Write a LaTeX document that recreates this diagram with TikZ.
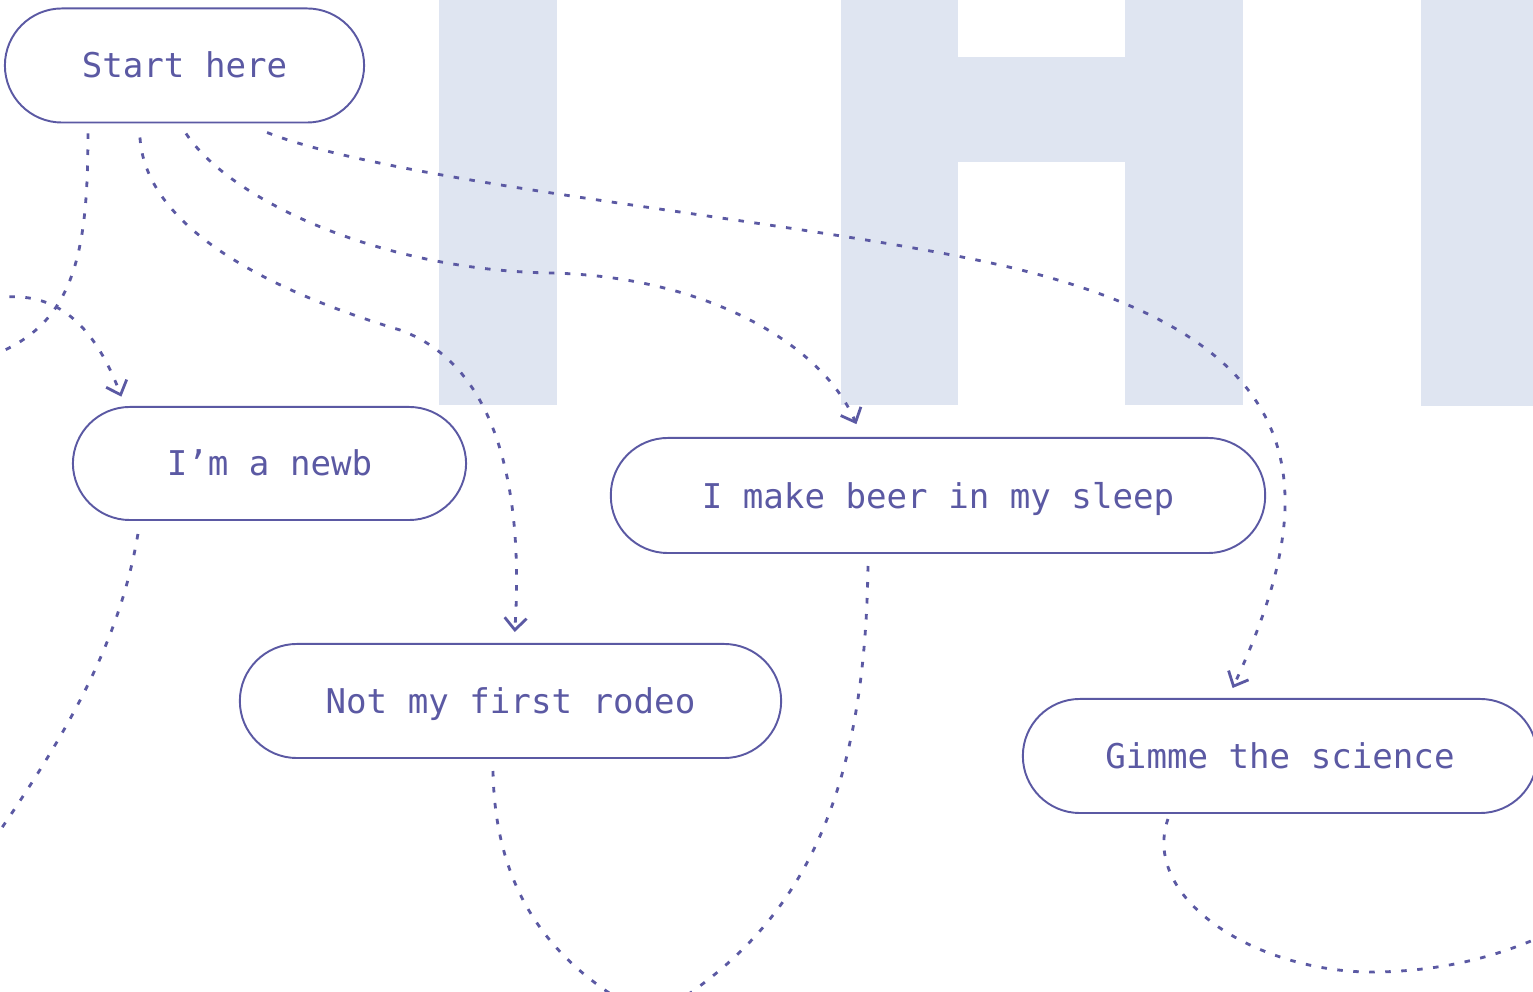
\documentclass[tikz,border=0pt]{standalone}
\usepackage{fontspec}
\setmonofont{DejaVu Sans Mono}
\usetikzlibrary{arrows.meta}

\definecolor{ink}{HTML}{5B59A3}
\definecolor{haze}{HTML}{DFE5F1}

\tikzset{
  pill/.style={draw=ink,line width=0.55pt,rounded corners=5.7mm,minimum height=1.14cm,
    text=ink,text height=2.5mm,text depth=0pt,font=\ttfamily\fontsize{9.7}{11}\selectfont},
  link/.style={draw=ink,line width=0.8pt,dash pattern=on 0.055cm off 0.105cm},
}

\begin{document}
\begin{tikzpicture}[x=0.01cm,y=-0.01cm,>={Straight Barb[length=1.2mm,width=2.2mm]}]
  \useasboundingbox (0,0) rectangle (1533,992);
  \clip (0,0) rectangle (1533,992);
  % letras de fondo (I H I)
  \fill[haze] (439,0) rectangle (557,405);
  \fill[haze] (841,0) rectangle (958,405);
  \fill[haze] (958,57) rectangle (1125,162);
  \fill[haze] (1125,0) rectangle (1243,405);
  \fill[haze] (1421,0) rectangle (1540,406);
  % cajas
  \node[pill,minimum width=3.59cm] (start) at (184.5,65.5) {Start here};
  \node[pill,minimum width=3.93cm,minimum height=1.13cm] (newb) at (269.5,463.5) {I’m a newb};
  \node[pill,minimum width=6.54cm,minimum height=1.15cm] (beer) at (938,495.5) {I make beer in my sleep};
  \node[pill,minimum width=5.41cm] (rodeo) at (510.5,701) {Not my first rodeo};
  \node[pill,minimum width=5.14cm] (gimme) at (1280,756) {Gimme the science};
  % salidas libres
  \coordinate (newbout) at (-10,845);
  \coordinate (rodeoout) at (620,1000);
  \coordinate (beerout) at (680,1000);
  \coordinate (gimmeout) at (1545,935);
  % desde start
  \draw[link,->,shorten >=1mm] ([xshift=-0.965cm,yshift=-1mm]start.south) .. controls (88,270) and (70,340) .. (-40,365)
    .. controls (-110,385) and (-100,292) .. (20,297) .. controls (70,300) and (100,340) .. ([xshift=-1.445cm]newb.north);
  \draw[link,->,shorten >=1.1mm] ([xshift=-0.445cm,yshift=-1.4mm]start.south) .. controls (145,220) and (250,285) .. (400,330)
    .. controls (510,370) and (522,520) .. ([xshift=0.035cm]rodeo.north);
  \draw[link,->,shorten >=1.4mm] ([xshift=0.015cm,yshift=-1mm]start.south) .. controls (230,200) and (380,270) .. (550,273)
    .. controls (700,276) and (820,340) .. ([xshift=-0.76cm]beer.north);
  \draw[link,->,shorten >=1.1mm] ([xshift=0.825cm,yshift=-0.9mm]start.south) .. controls (400,185) and (800,220) .. (1000,265)
    .. controls (1330,340) and (1320,500) .. ([xshift=-0.52cm]gimme.north);
  % siguientes pasos
  \draw[link] ([xshift=-1.315cm,yshift=-1.3mm]newb.south) .. controls (120,640) and (70,730) .. (newbout);
  \draw[link] ([xshift=-0.175cm,yshift=-1.2mm]rodeo.south) .. controls (495,880) and (540,950) .. (rodeoout);
  \draw[link] ([xshift=-0.7cm,yshift=-1.2mm]beer.south) .. controls (865,800) and (800,920) .. (beerout);
  \draw[link] ([xshift=-1.12cm,yshift=-0.5mm]gimme.south) .. controls (1140,900) and (1260,975) .. (1380,972)
    .. controls (1450,970) and (1500,955) .. (gimmeout);
\end{tikzpicture}
\end{document}
